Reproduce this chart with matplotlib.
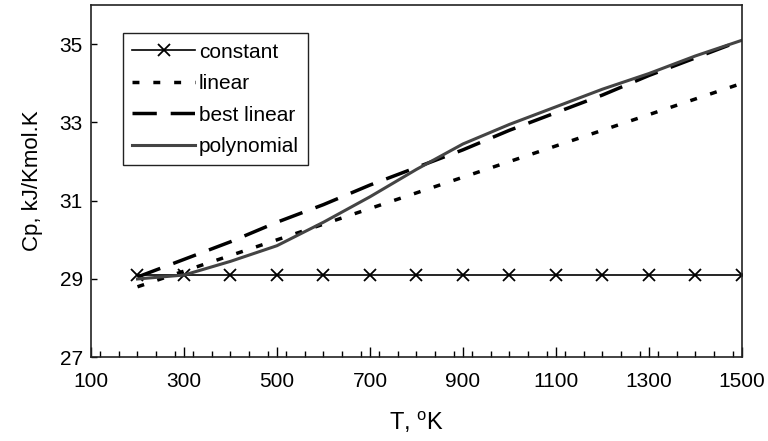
import numpy as np
import matplotlib.pyplot as plt
from matplotlib.ticker import MultipleLocator

plt.rcParams['font.family'] = ['Liberation Sans', 'DejaVu Sans']

# temperatura, K
T = [200, 300, 400, 500, 600, 700, 800, 900, 1000, 1100, 1200, 1300, 1400, 1500]

# Cp, kJ/Kmol.K
cp_constant = [29.1] * len(T)
cp_linear = [28.8, 29.2, 29.6, 30.0, 30.4, 30.8, 31.2, 31.6, 32.0, 32.4, 32.8, 33.2, 33.6, 34.0]
cp_best = [29.05, 29.5, 29.95, 30.45, 30.9, 31.4, 31.85, 32.3, 32.8, 33.25, 33.7, 34.2, 34.65, 35.1]
cp_poly = [29.0, 29.1, 29.45, 29.85, 30.45, 31.1, 31.8, 32.45, 32.95, 33.4, 33.85, 34.25, 34.7, 35.1]

fig = plt.figure(figsize=(7.68, 4.41), dpi=100)
ax = fig.add_axes([0.1185, 0.19, 0.8475, 0.7985])

ax.plot(T, cp_constant, color='black', lw=1.2, marker='x', ms=8, mew=1.3, label='constant')
ax.plot(T, cp_linear, color='black', lw=2.5, dashes=(2, 4), label='linear')
ax.plot(T, cp_best, color='black', lw=2.5, dashes=(7, 4), label='best linear')
ax.plot(T, cp_poly, color='#444444', lw=2.2, label='polynomial')

ax.set_xlim(100, 1500)
ax.set_ylim(27, 36)
ax.set_xticks([100, 300, 500, 700, 900, 1100, 1300, 1500])
ax.xaxis.set_minor_locator(MultipleLocator(40))
ax.set_yticks([27, 29, 31, 33, 35])
ax.tick_params(direction='in', labelsize=15, length=7, width=1, colors='black')
ax.tick_params(which='minor', direction='in', length=4, width=1)
ax.tick_params(axis='x', pad=11)
ax.tick_params(axis='y', length=4, pad=6)
for s in ax.spines.values():
    s.set_linewidth(1.2)
    s.set_color('#222222')

ax.set_xlabel('T, $\\mathregular{^o}$K', fontsize=17, labelpad=13)
ax.set_ylabel('Cp, kJ/Kmol.K', fontsize=16, labelpad=12)

leg = ax.legend(loc='upper left', bbox_to_anchor=(0.049, 0.92), borderaxespad=0,
                fontsize=15, fancybox=False, framealpha=1, edgecolor='#222222',
                handlelength=3.0, handletextpad=0.2, borderpad=0.45, labelspacing=0.6)
leg.get_frame().set_linewidth(1.0)

fig.savefig('out.png', dpi=100)
